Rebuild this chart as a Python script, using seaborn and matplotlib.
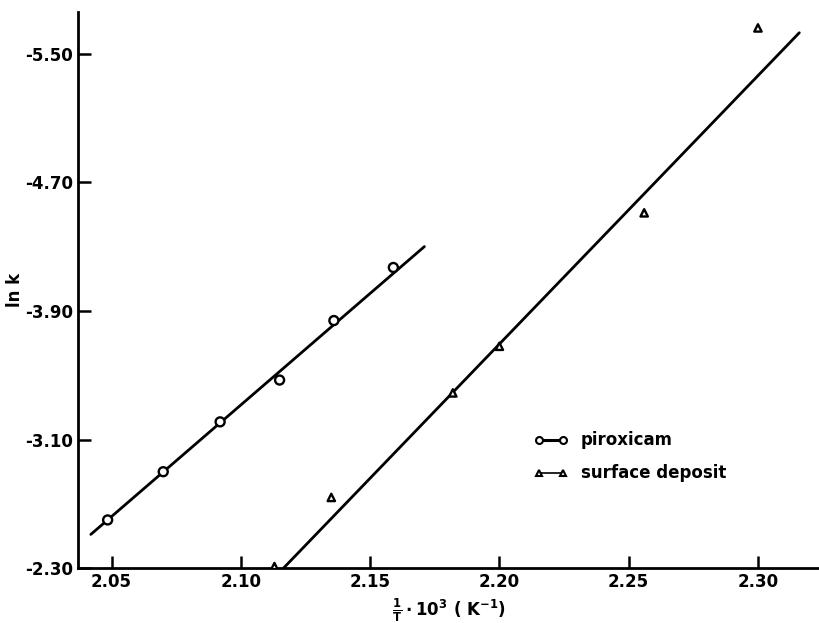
import numpy as np
import pandas as pd
import seaborn as sns
import matplotlib
matplotlib.use("Agg")
import matplotlib.pyplot as plt
from matplotlib.lines import Line2D

# piroxicam: 1/T*10^3 and ln k
pir_x = [2.0485, 2.070, 2.092, 2.115, 2.136, 2.159]
pir_y = [-2.60, -2.90, -3.21, -3.47, -3.84, -4.17]
# surface deposit
dep_x = [2.113, 2.135, 2.182, 2.200, 2.256, 2.300]
dep_y = [-2.31, -2.74, -3.39, -3.68, -4.51, -5.66]
# regression lines (ends as printed)
pir_fit_x = [2.042, 2.171]
pir_fit_y = [-2.51, -4.30]
dep_fit_x = [2.1165, 2.316]
dep_fit_y = [-2.30, -5.63]

x_ticks = [2.05, 2.10, 2.15, 2.20, 2.25, 2.30]
y_ticks = [-2.30, -3.10, -3.90, -4.70, -5.50]

sns.set_style("ticks")
plt.rcParams['font.family'] = ['DejaVu Sans']
plt.rcParams['font.weight'] = 'bold'
plt.rcParams['text.color'] = 'black'
plt.rcParams['axes.labelcolor'] = 'black'

fig = plt.figure(figsize=(8.2, 6.23), dpi=100)
ax = fig.add_axes([0.095, 0.088, 0.905, 0.893])

pts = pd.DataFrame({"x": pir_x + dep_x, "y": pir_y + dep_y,
                    "kind": ["piroxicam"] * len(pir_x) + ["surface deposit"] * len(dep_x)})

sns.lineplot(x=pir_fit_x, y=pir_fit_y, ax=ax, color="black", lw=2.0)
sns.lineplot(x=dep_fit_x, y=dep_fit_y, ax=ax, color="black", lw=2.0)

sns.scatterplot(data=pts, x="x", y="y", style="kind",
                markers={"piroxicam": "o", "surface deposit": "^"},
                size="kind", sizes={"piroxicam": 42, "surface deposit": 28},
                facecolor="white", edgecolor="black", linewidth=1.7,
                ax=ax, legend=False, zorder=3)

ax.set_xlim(2.037, 2.324)
ax.set_ylim(-2.30, -5.76)
ax.set_xticks(x_ticks)
ax.set_xticklabels([f"{v:.2f}" for v in x_ticks])
ax.set_yticks(y_ticks)
ax.set_yticklabels([f"{v:.2f}" for v in y_ticks])
ax.tick_params(direction="in", length=9, width=1.8, labelsize=12, colors="black")
for s in ["top", "right"]:
    ax.spines[s].set_visible(False)
for s in ["left", "bottom"]:
    ax.spines[s].set_linewidth(2)
    ax.spines[s].set_color("black")

ax.set_xlabel(r"$\mathbf{\frac{1}{T}\cdot 10^3}$ ( K$^{-1}$)", fontsize=12, fontweight="bold")
ax.set_ylabel("ln k", fontsize=12, fontweight="bold")
ax.yaxis.set_label_coords(-0.072, 0.5)

handles = [
    Line2D([], [], color="black", lw=2.2, marker="o", markersize=5,
           markerfacecolor="white", markeredgewidth=1.5),
    Line2D([], [], color="black", lw=1.2, marker="^", markersize=4.5,
           markerfacecolor="white", markeredgewidth=1.5),
]
ax.legend(handles, ["piroxicam", "surface deposit"], loc="center left",
          bbox_to_anchor=(0.595, 0.2), frameon=False, numpoints=2,
          handlelength=2.0, labelspacing=0.9, labelcolor="black",
          prop={"size": 12, "weight": "bold"})

fig.savefig("out.png", dpi=100)
